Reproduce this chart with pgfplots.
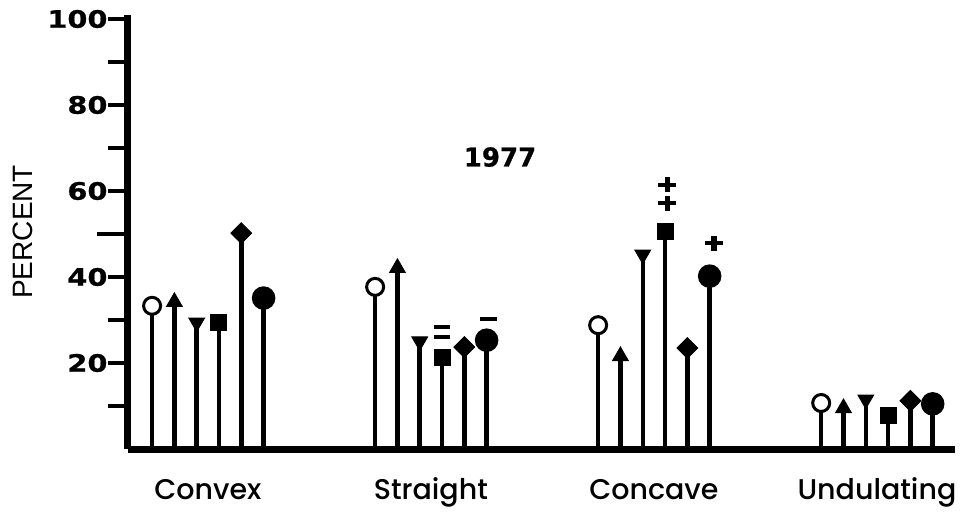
\documentclass[border=0pt]{standalone}
\usepackage{pgfplots}
\pgfplotsset{compat=1.18}
\usepackage{fontspec}
\setmainfont{Poppins}[UprightFont=* Medium]
\newfontfamily\djv{DejaVu Sans}[BoldFeatures={FakeBold=0.8}]
\newfontfamily\djvwide{DejaVu Sans}[FakeStretch=1.2, BoldFeatures={FakeBold=0.8}]
\newfontfamily\lib{Liberation Sans}
\newcommand\numfont{\djv\bfseries\fontsize{26bp}{26bp}\selectfont}
\newcommand\tickfont{\djvwide\bfseries\fontsize{24bp}{24bp}\selectfont}
\newcommand\catfont{\fontsize{28.5bp}{29bp}\selectfont}
% a heavy plus sign built from two bars, centred on its anchor
\newcommand\plussign{\makebox[0pt]{\raisebox{-2.4bp}{\rule{18bp}{4.8bp}}}\makebox[0pt]{\raisebox{-7.5bp}{\rule{5.5bp}{15bp}}}}

\begin{document}
\begin{tikzpicture}
\useasboundingbox (-128bp,-63bp) rectangle (836bp,449bp);
\begin{axis}[
  at={(0,0)}, anchor=south west,
  scale only axis, width=827bp, height=434.3bp,
  xmin=-1.08, xmax=36.0, ymin=0, ymax=101,
  axis lines=left,
  axis line style={-, line width=7bp, black},
  clip=false,
  tick align=outside,
  major tick length=20bp, minor tick length=20bp,
  tick style={line width=3.5bp, black},
  ytick={20,40,60,80,100},
  minor ytick={10,30,70,90},
  extra y ticks={50}, extra y tick labels={},
  extra tick style={major tick length=31bp},
  /pgf/number format/assume math mode=true,
  yticklabel style={font=\tickfont, xshift=3bp},
  xtick={2.5,12.5,22.5,32.5},
  xticklabels={Convex,Straight,Concave,Undulating},
  xtick style={draw=none},
  xticklabel style={font=\catfont, anchor=base, yshift=-30.5bp},
  ylabel={PERCENT},
  ylabel style={font=\lib\fontsize{28bp}{28bp}\selectfont,
    at={(axis description cs:-0.127,0.5)}, anchor=center},
  every axis plot/.append style={ycomb, black, line width=4.5bp},
]
% open circles
\addplot[mark=*, mark size=8.5bp, mark options={fill=white, line width=3bp}]
  coordinates {(0,33.3) (10,37.7) (20,28.8) (30,10.7)};
% upward triangles
\addplot[mark=triangle*, mark size=9bp, mark options={line width=1bp}]
  coordinates {(1,34.2) (11,42.1) (21,21.6) (31,9.5)};
% downward triangles
\addplot[mark=triangle*, mark size=9bp, mark options={line width=1bp, rotate=180}]
  coordinates {(2,29.4) (12,25.0) (22,45.2) (32,11.5)};
% squares
\addplot[mark=square*, mark size=8bp, mark options={line width=1bp}]
  coordinates {(3,29.5) (13,21.2) (23,50.5) (33,7.9)};
% diamonds
\addplot[mark=square*, mark size=7.3bp, mark options={line width=1bp, rotate=45}]
  coordinates {(4,50.2) (14,23.7) (24,23.5) (34,11.2)};
% filled circles
\addplot[mark=*, mark size=9.5bp]
  coordinates {(5,35.1) (15,25.3) (25,40.2) (35,10.5)};

% year
\node[font=\numfont] at (axis cs:15.6,67.9) {1977};
% significance signs
\node[inner sep=0pt] at (axis cs:13,28.4) {\rule{16bp}{3.5bp}};
\node[inner sep=0pt] at (axis cs:13,26.0) {\rule{16bp}{3.5bp}};
\node[inner sep=0pt] at (axis cs:15.1,30.2) {\rule{17bp}{3.5bp}};
\node[inner sep=0pt] at (axis cs:23.1,61.4) {\plussign};
\node[inner sep=0pt] at (axis cs:23.1,57.2) {\plussign};
\node[inner sep=0pt] at (axis cs:25.2,47.9) {\plussign};
\end{axis}
\end{tikzpicture}
\end{document}
